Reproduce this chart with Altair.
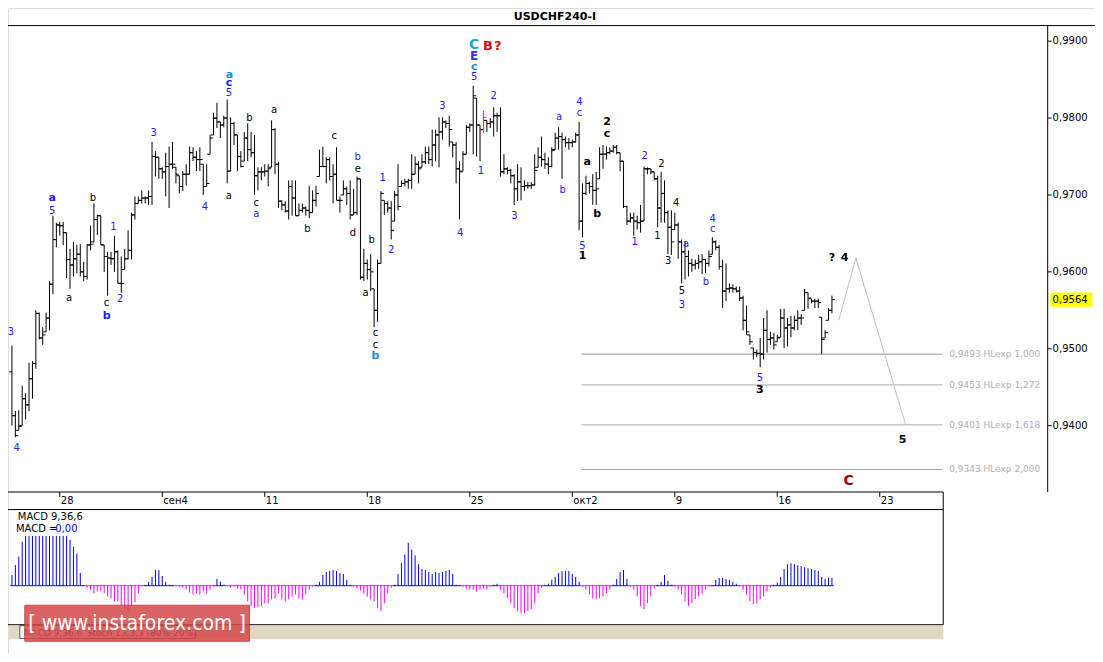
import altair as alt
import pandas as pd

# ---------------- layout helpers (reference 1103x662 -> page 1087x646) ----------
W, H = 1087, 646
SX, SY = W / 1103, H / 662
def sx(v): return v * SX
def sy(v): return v * SY

TITLE = "USDCHF240-I"

# ---------------- data: USDCHF H4 bars, prices in pips (x 1e-4) ----------------
OPEN = [
 9470, 9413, 9394, 9400, 9435, 9427, 9461, 9481, 9546, 9514,
 9522, 9540, 9584, 9642, 9661, 9660, 9651, 9616, 9609, 9617,
 9623, 9600, 9594, 9635, 9639, 9668, 9673, 9635, 9620, 9618,
 9617, 9626, 9585, 9603, 9617, 9628, 9674, 9689, 9693, 9696,
 9696, 9698, 9750, 9749, 9734, 9730, 9737, 9740, 9736, 9725,
 9711, 9727, 9727, 9755, 9749, 9746, 9740, 9711, 9753, 9778,
 9800, 9795, 9791, 9800, 9731, 9793, 9778, 9750, 9744, 9774,
 9759, 9755, 9725, 9730, 9730, 9731, 9736, 9785, 9740, 9692,
 9687, 9679, 9711, 9696, 9673, 9680, 9683, 9680, 9677, 9693,
 9724, 9737, 9737, 9746, 9724, 9727, 9693, 9700, 9708, 9702,
 9674, 9677, 9721, 9593, 9611, 9603, 9578, 9550, 9611, 9693,
 9689, 9683, 9666, 9700, 9711, 9715, 9717, 9719, 9727, 9740,
 9736, 9743, 9755, 9746, 9765, 9778, 9782, 9795, 9793, 9769,
 9765, 9734, 9731, 9753, 9788, 9791, 9826, 9791, 9785, 9797,
 9793, 9795, 9803, 9803, 9730, 9734, 9732, 9725, 9708, 9717,
 9711, 9712, 9712, 9713, 9736, 9749, 9746, 9740, 9737, 9759,
 9774, 9776, 9772, 9768, 9768, 9769, 9778, 9666, 9702, 9715,
 9711, 9706, 9721, 9753, 9753, 9755, 9757, 9762, 9755, 9744,
 9685, 9666, 9670, 9666, 9664, 9666, 9734, 9734, 9730, 9721,
 9683, 9702, 9677, 9658, 9655, 9661, 9639, 9626, 9620, 9611,
 9609, 9611, 9613, 9616, 9611, 9623, 9639, 9632, 9607, 9575,
 9578, 9579, 9578, 9575, 9566, 9537, 9518, 9501, 9495, 9494,
 9493, 9524, 9512, 9514, 9509, 9515, 9540, 9527, 9531, 9527,
 9537, 9540, 9550, 9573, 9565, 9562, 9562, 9541, 9514, 9537,
 9550]
HIGH = [
 9504, 9419, 9420, 9452, 9442, 9482, 9484, 9550, 9547, 9528,
 9547, 9588, 9673, 9664, 9665, 9665, 9651, 9630, 9639, 9635,
 9636, 9613, 9636, 9660, 9689, 9674, 9673, 9635, 9626, 9626,
 9647, 9628, 9620, 9630, 9654, 9677, 9698, 9698, 9706, 9698,
 9706, 9769, 9757, 9749, 9736, 9755, 9763, 9769, 9736, 9725,
 9731, 9740, 9763, 9762, 9757, 9762, 9740, 9740, 9778, 9807,
 9820, 9795, 9803, 9824, 9801, 9795, 9778, 9757, 9782, 9793,
 9782, 9778, 9736, 9736, 9740, 9740, 9797, 9787, 9743, 9693,
 9692, 9719, 9719, 9719, 9689, 9689, 9685, 9712, 9706, 9712,
 9759, 9763, 9749, 9749, 9740, 9762, 9698, 9719, 9711, 9719,
 9708, 9724, 9721, 9630, 9616, 9623, 9578, 9616, 9705, 9693,
 9692, 9692, 9705, 9740, 9719, 9721, 9721, 9753, 9750, 9744,
 9753, 9763, 9763, 9785, 9785, 9801, 9801, 9797, 9803, 9769,
 9769, 9744, 9757, 9791, 9793, 9842, 9826, 9791, 9810, 9797,
 9800, 9814, 9807, 9814, 9753, 9736, 9734, 9727, 9740, 9736,
 9719, 9717, 9717, 9753, 9762, 9776, 9755, 9749, 9762, 9781,
 9788, 9781, 9776, 9774, 9772, 9781, 9795, 9715, 9725, 9717,
 9727, 9730, 9762, 9765, 9763, 9762, 9765, 9765, 9755, 9744,
 9685, 9677, 9677, 9673, 9687, 9737, 9736, 9734, 9730, 9725,
 9730, 9719, 9680, 9680, 9677, 9664, 9642, 9639, 9628, 9617,
 9616, 9622, 9623, 9617, 9628, 9645, 9641, 9635, 9616, 9611,
 9585, 9584, 9581, 9581, 9569, 9556, 9518, 9501, 9499, 9514,
 9540, 9550, 9522, 9521, 9518, 9552, 9552, 9540, 9543, 9543,
 9550, 9545, 9578, 9573, 9565, 9565, 9565, 9541, 9524, 9553,
 9569]
LOW = [
 9400, 9385, 9394, 9400, 9408, 9419, 9435, 9474, 9512, 9505,
 9522, 9524, 9571, 9632, 9647, 9635, 9592, 9578, 9594, 9598,
 9594, 9588, 9590, 9628, 9639, 9648, 9635, 9600, 9569, 9609,
 9600, 9585, 9573, 9603, 9616, 9616, 9668, 9689, 9689, 9689,
 9687, 9687, 9724, 9721, 9721, 9698, 9683, 9734, 9715, 9702,
 9705, 9712, 9727, 9744, 9731, 9731, 9700, 9711, 9753, 9778,
 9787, 9774, 9788, 9715, 9731, 9765, 9731, 9736, 9744, 9744,
 9749, 9700, 9706, 9719, 9724, 9711, 9736, 9727, 9683, 9680,
 9677, 9668, 9673, 9673, 9673, 9677, 9673, 9670, 9677, 9685,
 9724, 9737, 9715, 9719, 9689, 9693, 9677, 9700, 9687, 9668,
 9674, 9674, 9590, 9588, 9590, 9575, 9528, 9535, 9611, 9674,
 9677, 9642, 9666, 9680, 9711, 9711, 9708, 9708, 9727, 9715,
 9736, 9740, 9740, 9737, 9744, 9736, 9772, 9787, 9763, 9749,
 9715, 9668, 9731, 9753, 9782, 9753, 9750, 9744, 9781, 9782,
 9787, 9776, 9782, 9724, 9727, 9727, 9715, 9687, 9692, 9693,
 9705, 9708, 9708, 9712, 9736, 9737, 9734, 9727, 9736, 9759,
 9759, 9721, 9762, 9759, 9762, 9768, 9654, 9645, 9700, 9702,
 9687, 9687, 9721, 9734, 9746, 9753, 9755, 9753, 9731, 9683,
 9661, 9664, 9647, 9655, 9651, 9666, 9727, 9727, 9719, 9658,
 9664, 9664, 9623, 9622, 9655, 9617, 9585, 9590, 9594, 9600,
 9603, 9604, 9597, 9598, 9607, 9623, 9628, 9603, 9553, 9562,
 9573, 9573, 9573, 9562, 9524, 9518, 9505, 9486, 9489, 9476,
 9486, 9495, 9505, 9499, 9509, 9515, 9501, 9503, 9515, 9524,
 9524, 9531, 9550, 9552, 9559, 9553, 9553, 9493, 9514, 9537,
 9546]
CLOSE = [
 9413, 9387, 9399, 9435, 9427, 9461, 9481, 9546, 9514, 9518,
 9540, 9584, 9642, 9661, 9660, 9651, 9616, 9609, 9617, 9623,
 9600, 9594, 9635, 9636, 9668, 9673, 9635, 9620, 9618, 9617,
 9626, 9585, 9585, 9617, 9628, 9674, 9689, 9693, 9696, 9696,
 9698, 9750, 9749, 9734, 9730, 9737, 9740, 9740, 9727, 9711,
 9727, 9727, 9755, 9749, 9746, 9746, 9711, 9715, 9774, 9800,
 9795, 9791, 9800, 9731, 9793, 9778, 9750, 9737, 9774, 9759,
 9755, 9725, 9730, 9730, 9731, 9734, 9785, 9740, 9692, 9687,
 9679, 9711, 9696, 9673, 9680, 9683, 9680, 9677, 9693, 9702,
 9737, 9737, 9746, 9724, 9727, 9693, 9693, 9708, 9702, 9674,
 9677, 9721, 9593, 9611, 9603, 9600, 9550, 9611, 9702, 9689,
 9683, 9654, 9700, 9685, 9715, 9717, 9719, 9727, 9740, 9734,
 9743, 9755, 9746, 9765, 9778, 9782, 9795, 9793, 9785, 9765,
 9734, 9730, 9753, 9788, 9791, 9829, 9791, 9785, 9801, 9793,
 9795, 9803, 9803, 9730, 9734, 9732, 9725, 9708, 9717, 9711,
 9712, 9712, 9713, 9732, 9749, 9746, 9740, 9737, 9758, 9774,
 9776, 9772, 9768, 9768, 9769, 9778, 9666, 9702, 9715, 9711,
 9706, 9708, 9753, 9753, 9755, 9757, 9762, 9755, 9744, 9685,
 9666, 9670, 9666, 9664, 9666, 9734, 9734, 9730, 9721, 9683,
 9702, 9677, 9658, 9639, 9661, 9639, 9626, 9620, 9611, 9609,
 9611, 9613, 9616, 9611, 9620, 9639, 9632, 9607, 9575, 9578,
 9579, 9578, 9575, 9566, 9537, 9522, 9509, 9495, 9494, 9493,
 9524, 9512, 9514, 9505, 9514, 9540, 9527, 9531, 9527, 9537,
 9540, 9540, 9573, 9566, 9562, 9562, 9560, 9512, 9521, 9550,
 9564]
MARKED_BAR = 138   # bar drawn in magenta on the reference

# MACD(9,36,6) histogram, units of 1e-5
MACD_HIST = [
 55, 105, 150, 225, 255, 255, 255, 255, 255, 255,
 255, 255, 255, 255, 255, 255, 255, 235, 200, 165,
 65, 0, -10, -20, -40, -30, -25, -40, -55, -65,
 -80, -80, -100, -115, -125, -105, -85, -40, -5, 5,
 20, 45, 80, 80, 50, 20, 5, 2, -2, -5,
 -10, -20, -35, -45, -40, -45, -30, -40, -20, -5,
 35, 20, 5, -2, -10, -5, -15, -20, -45, -80,
 -105, -115, -110, -105, -90, -90, -70, -65, -40, -70,
 -80, -70, -55, -45, -65, -70, -45, -20, -5, 5,
 20, 55, 70, 75, 80, 75, 65, 60, 30, 5,
 -5, -15, -25, -40, -55, -70, -80, -115, -130, -90,
 -40, -10, 5, 60, 115, 160, 220, 185, 155, 110,
 85, 80, 70, 60, 70, 65, 70, 75, 80, 60,
 5, 2, -5, -15, -20, -20, -30, -20, -15, -20,
 -5, 5, 10, -20, -40, -65, -90, -115, -130, -140,
 -140, -130, -120, -90, -40, -10, 5, 10, 30, 45,
 65, 75, 75, 75, 60, 45, 20, -5, -20, -45,
 -65, -70, -65, -55, -40, -20, 5, 35, 70, 80,
 35, -5, -20, -55, -105, -120, -90, -55, -15, 5,
 20, 55, 25, 5, -5, -20, -45, -80, -105, -90,
 -70, -55, -40, -20, -5, 2, 30, 40, 40, 35,
 30, 20, 10, -5, -20, -45, -80, -95, -90, -70,
 -55, -30, -10, 5, 15, 45, 85, 110, 115, 110,
 105, 100, 95, 90, 85, 80, 75, 45, 35, 40,
 40]

DATE_LABELS = ["28", "сен4", "11", "18", "25", "окт2", "9", "16", "23"]
DATE_BARS = [14, 44, 74, 104, 134, 164, 194, 224, 254]
PRICE_TICKS = [9900, 9800, 9700, 9600, 9500, 9400]

FIB_LEVELS = [9493, 9453, 9401, 9343]
FIB_RATIOS = ["1,000", "1,272", "1,618", "2,000"]
FIB_FROM, FIB_TO = 166.7, 272.3

PROJ_BARS = [242, 247, 261.6]
PROJ_PRICES = [9537, 9618, 9401]

# wave labels: text, bar position, price (pips), degree kind
WAVE_TEXT = ["3", "4", "a", "5", "b", "1", "a", "c", "b", "2",
             "3", "4", "a", "c", "5", "a", "b", "c", "a", "a",
             "b", "c", "b", "e", "d", "b", "a", "c", "c", "b",
             "1", "2", "3", "4", "C", "E", "c", "5", "B", "?",
             "1", "2", "3", "a", "b", "c", "4", "5", "1", "a",
             "b", "2", "c", "2", "1", "2", "1", "4", "3", "a",
             "5", "3", "4", "c", "b", "5", "3", "?", "4", "5",
             "C"]
WAVE_BAR = [-0.3, 1.4, 11.8, 11.8, 23.7, 29.7, 16.7, 27.7, 27.7, 31.7,
            41.5, 56.5, 63.7, 63.5, 63.5, 63.5, 69.5, 71.5, 71.5, 76.7,
            86.5, 94.3, 101.2, 101.2, 99.8, 105.3, 103.5, 106.4, 106.4, 106.4,
            108.5, 111, 126, 131.2, 135.3, 135.3, 135.3, 135.3, 139.3, 142.2,
            137.3, 141, 147.1, 160.1, 161.2, 166.1, 166.1, 167, 167, 168.4,
            171.3, 174.2, 174.2, 185.2, 182.3, 190.1, 188.9, 194.4, 192.1, 197.3,
            196.1, 196.1, 205.1, 205.1, 203.1, 218.9, 218.9, 240, 243.7, 260.7,
            244.9]
WAVE_PRICE = [9522, 9371, 9696, 9679, 9696, 9658, 9566, 9559, 9543, 9565,
              9781, 9685, 9856, 9845, 9833, 9699, 9800, 9689, 9675, 9810,
              9656, 9777, 9749, 9734, 9651, 9641, 9573, 9521, 9505, 9491,
              9722, 9628, 9816, 9650, 9895, 9881, 9867, 9854, 9894, 9894,
              9731, 9829, 9673, 9801, 9707, 9807, 9821, 9633, 9620, 9743,
              9675, 9795, 9779, 9751, 9639, 9740, 9647, 9689, 9614, 9636,
              9575, 9557, 9669, 9656, 9587, 9462, 9447, 9618, 9618, 9381,
              9328]
WAVE_KIND = ["b", "b", "B", "b", "k", "b", "k", "k", "B", "b",
             "b", "b", "c", "B", "b", "k", "k", "k", "b", "k",
             "k", "k", "b", "k", "k", "k", "k", "k", "k", "c",
             "b", "b", "b", "b", "C", "E", "c", "b", "r", "r",
             "b", "b", "b", "b", "b", "b", "b", "b", "K", "K",
             "K", "K", "K", "b", "b", "k", "k", "k", "k", "b",
             "k", "b", "b", "b", "b", "b", "K", "K", "K", "K",
             "R"]

# ---------------- styles ----------------
FONT = "DejaVu Sans"
KIND_STYLE = {
    "b": ("#1a1aff", "normal", 10),
    "B": ("#1a1aff", "bold", 11),
    "k": ("#000000", "normal", 10),
    "K": ("#000000", "bold", 11),
    "c": ("#1a90d0", "bold", 11),
    "C": ("#2a9ed8", "bold", 14),
    "E": ("#3a2aff", "bold", 12),
    "r": ("#d01010", "bold", 13),
    "R": ("#990000", "bold", 14),
}

N = len(CLOSE)
bars = pd.DataFrame({"i": list(range(N)), "o": OPEN, "h": HIGH, "l": LOW, "c": CLOSE})
bars["xl"] = bars["i"] - 0.85
bars["xr"] = bars["i"] + 0.85

macd = pd.DataFrame({"i": list(range(len(MACD_HIST))), "m": MACD_HIST})
macd["z"] = 0
macd["xl"] = macd["i"] - 0.5
macd["xr"] = macd["i"] + 0.5

fib = pd.DataFrame({"p": FIB_LEVELS, "r": FIB_RATIOS})
fib["x0"] = FIB_FROM
fib["x1"] = FIB_TO
fib["lab"] = [f"0,{p} HLexp {r}" for p, r in zip(FIB_LEVELS, FIB_RATIOS)]

proj = pd.DataFrame({"i": PROJ_BARS, "p": PROJ_PRICES, "o": list(range(len(PROJ_BARS)))})

waves = pd.DataFrame({"t": WAVE_TEXT, "i": WAVE_BAR, "p": WAVE_PRICE, "k": WAVE_KIND})
waves["col"] = [KIND_STYLE[k][0] for k in WAVE_KIND]
waves["wt"] = [KIND_STYLE[k][1] for k in WAVE_KIND]
waves["fs"] = [KIND_STYLE[k][2] for k in WAVE_KIND]

ticks = pd.DataFrame({"p": PRICE_TICKS, "lab": [f"0,{p}" for p in PRICE_TICKS]})
dates = pd.DataFrame({"i": DATE_BARS, "lab": DATE_LABELS})
last = pd.DataFrame({"p": [CLOSE[-1]], "lab": [f"0,{CLOSE[-1]}"]})
one = pd.DataFrame({"k": [0]})

# ---------------- scales ----------------
XS = alt.Scale(domain=[-1.154, 303.15], range=[0, sx(1055)], nice=False, zero=False)
PY = alt.Scale(domain=[9400, 9900], range=[sy(428), sy(34)], nice=False, zero=False)
MY = alt.Scale(domain=[-200, 390], range=[sy(632), sy(514)], nice=False, zero=False)

def X(f):
    return alt.X(f, type="quantitative", scale=XS, axis=None)
def YP(f):
    return alt.Y(f, type="quantitative", scale=PY, axis=None)
def YM(f):
    return alt.Y(f, type="quantitative", scale=MY, axis=None)

def hline(x1, x2, y, color="#000000", w=1):
    return alt.Chart(one).mark_rule(color=color, strokeWidth=w).encode(
        x=alt.value(sx(x1)), x2=alt.value(sx(x2)), y=alt.value(sy(y)))
def vline(x, y1, y2, color="#000000", w=1):
    return alt.Chart(one).mark_rule(color=color, strokeWidth=w).encode(
        x=alt.value(sx(x)), y=alt.value(sy(y1)), y2=alt.value(sy(y2)))
def box(x1, x2, y1, y2, fill, opacity=1.0, stroke=None):
    kw = dict(fill=fill, opacity=opacity)
    if stroke:
        kw["stroke"] = stroke
        kw["strokeWidth"] = 1
    return alt.Chart(one).mark_rect(**kw).encode(
        x=alt.value(sx(x1)), x2=alt.value(sx(x2)), y=alt.value(sy(y1)), y2=alt.value(sy(y2)))
def label(text, x, y, size=10, color="#000000", weight="normal", align="left", font=FONT):
    return alt.Chart(pd.DataFrame({"t": [text]})).mark_text(
        align=align, baseline="middle", fontSize=size, color=color, fontWeight=weight, font=font
    ).encode(x=alt.value(sx(x)), y=alt.value(sy(y)), text="t:N")

layers = []

# chrome: strips and frame lines
layers.append(box(1, 949, 633, 647, "#dcd8c2"))
layers.append(box(12, 190, 633, 646, "#ffffff", stroke="#555555"))
layers.append(label("MACD 9,36,6", 16, 640, size=9, color="#333333"))
layers.append(label("Stoch 13,3,3 (80%-20%)", 80, 640, size=9, color="#333333"))
layers += [
    hline(0, 1103, 18),
    vline(1055, 18, 496),
    hline(0, 949, 496),
    hline(0, 949, 514),
    vline(949, 496, 632),
    hline(0, 949, 632),
]

# title
layers.append(label(TITLE, 555, 9, size=11, weight="bold", align="center"))

# price scale ticks and labels
layers.append(alt.Chart(ticks).mark_rule(color="#000000").encode(
    x=alt.value(sx(1055)), x2=alt.value(sx(1059)), y=YP("p")))
layers.append(alt.Chart(ticks).mark_text(align="left", baseline="middle", fontSize=10, font=FONT).encode(
    x=alt.value(sx(1060)), y=YP("p"), text="lab:N"))

# date axis
layers.append(alt.Chart(dates).mark_rule(color="#000000").encode(
    x=X("i"), y=alt.value(sy(496)), y2=alt.value(sy(501))))
layers.append(alt.Chart(dates).mark_text(align="left", baseline="middle", fontSize=10, font=FONT, dx=1).encode(
    x=X("i"), y=alt.value(sy(505)), text="lab:N"))

# Fibonacci extension levels
fib_col = alt.condition(alt.datum.r == "1,000", alt.value("#9c90a4"), alt.value("#a8a8a8"))
layers.append(alt.Chart(fib).mark_rule(strokeWidth=1).encode(
    x=X("x0"), x2="x1:Q", y=YP("p"), color=fib_col))
layers.append(alt.Chart(fib).mark_text(align="left", baseline="middle", fontSize=9, font=FONT,
                                       color="#b4acb8").encode(
    x=alt.value(sx(955)), y=YP("p"), text="lab:N"))

# projected path
layers.append(alt.Chart(proj).mark_line(color="#c4bccc", strokeWidth=1).encode(
    x=X("i"), y=YP("p"), order="o:Q"))

# OHLC bars
bar_col = alt.condition(alt.datum.i == MARKED_BAR, alt.value("#ff00ff"), alt.value("#000000"))
layers.append(alt.Chart(bars).mark_rule(strokeWidth=1).encode(
    x=X("i"), y=YP("l"), y2="h:Q", color=bar_col))
layers.append(alt.Chart(bars).mark_rule(strokeWidth=1).encode(
    x=X("xl"), x2="i:Q", y=YP("o"), color=bar_col))
layers.append(alt.Chart(bars).mark_rule(strokeWidth=1).encode(
    x=X("i"), x2="xr:Q", y=YP("c"), color=bar_col))

# current price marker
layers.append(alt.Chart(last).mark_point(
    shape="M-1,-0.34L1,-0.34L1,0.34L-1,0.34Z", filled=True, fill="#ffff00", opacity=1,
    size=1764, strokeWidth=0).encode(x=alt.value(sx(1079)), y=YP("p")))
layers.append(alt.Chart(last).mark_text(align="left", baseline="middle", fontSize=10, font=FONT).encode(
    x=alt.value(sx(1060)), y=YP("p"), text="lab:N"))

# wave labels
for wt in ["normal", "bold"]:
    sub = waves[waves["wt"] == wt]
    layers.append(alt.Chart(sub).mark_text(baseline="middle", align="center", font=FONT, fontWeight=wt).encode(
        x=X("i"), y=YP("p"), text="t:N",
        color=alt.Color("col:N", scale=None),
        size=alt.Size("fs:Q", scale=None)))

# MACD histogram
mcol = alt.condition(alt.datum.m >= 0, alt.value("#0000ff"), alt.value("#ff00ff"))
layers.append(alt.Chart(macd).mark_rule(strokeWidth=1).encode(
    x=X("i"), y=YM("z"), y2="m:Q", color=mcol))
layers.append(alt.Chart(macd).mark_rule(strokeWidth=1).encode(
    x=X("xl"), x2="xr:Q", y=YM("z"), color=mcol))
layers.append(label("MACD 9,36,6", 10, 522, size=10))
layers.append(label("MACD =", 8, 534, size=10))
layers.append(label("0,00", 48, 534, size=10, color="#0000ff"))

# watermark
layers.append(box(17, 245, 612, 649, "#d44848", opacity=0.85, stroke="#b83434"))
layers.append(label("[  www.instaforex.com  ]", 131, 631, size=21, color="#ffffff", align="center",
                    font="Liberation Sans Narrow, DejaVu Sans Condensed, Liberation Sans"))

chart = alt.layer(*layers).properties(
    width=W, height=H, padding=0,
    autosize=alt.AutoSizeParams(type="none"),
).resolve_scale(y="independent").configure_view(stroke="#000000", strokeWidth=1).configure(
    background="#ffffff")

chart.save("out.html", embed_options={"renderer": "svg", "actions": False})
